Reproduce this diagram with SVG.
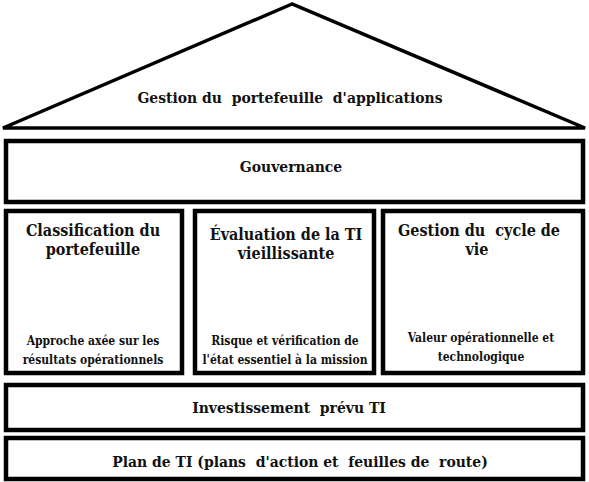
<svg xmlns="http://www.w3.org/2000/svg" width="589" height="482" viewBox="0 0 589 482">
<style>
.box{fill:#fff;stroke:#000;stroke-width:4.5}
.roof{fill:#fff;stroke:#000;stroke-width:3.5;stroke-linejoin:miter}
text{font-family:"DejaVu Serif Condensed","DejaVu Serif",serif;font-stretch:condensed;font-weight:700;fill:#111;text-anchor:middle}
.t1{font-size:15.5px}
.t2{font-size:16px}
.t3{font-size:12px}
</style>
<rect width="589" height="482" fill="#fff"/>
<g id="roof">
<polygon class="roof" points="292,4 3,128 585,128"/>
<text class="t1" x="290" y="103" xml:space="preserve">Gestion du  portefeuille  d'applications</text>
</g>
<g id="gouvernance">
<rect class="box" x="6" y="141" width="577" height="61"/>
<text class="t1" x="291" y="172">Gouvernance</text>
</g>
<g id="classification">
<rect class="box" x="6" y="211" width="176" height="162"/>
<text class="t2" x="93" y="236">Classification du</text>
<text class="t2" x="93" y="255">portefeuille</text>
<text class="t3" x="93" y="345">Approche axée sur les</text>
<text class="t3" x="93" y="364">résultats opérationnels</text>
</g>
<g id="evaluation">
<rect class="box" x="195" y="211" width="179" height="162"/>
<text class="t2" x="286" y="240">Évaluation de la TI</text>
<text class="t2" x="286" y="259">vieillissante</text>
<text class="t3" x="285" y="345">Risque et vérification de</text>
<text class="t3" x="285" y="364">l'état essentiel à la mission</text>
</g>
<g id="cycle">
<rect class="box" x="383" y="211" width="200" height="162"/>
<text class="t2" x="479" y="236" xml:space="preserve">Gestion du  cycle de</text>
<text class="t2" x="477" y="255">vie</text>
<text class="t3" x="481" y="342">Valeur opérationnelle et</text>
<text class="t3" x="481" y="361">technologique</text>
</g>
<g id="investissement">
<rect class="box" x="6" y="385" width="577" height="45"/>
<text class="t1" x="289" y="413" xml:space="preserve">Investissement  prévu TI</text>
</g>
<g id="plan">
<rect class="box" x="6" y="438" width="577" height="41"/>
<text class="t1" x="300" y="467" xml:space="preserve">Plan de TI (plans  d'action et  feuilles de  route)</text>
</g>
<g id="connectors"/>
</svg>
